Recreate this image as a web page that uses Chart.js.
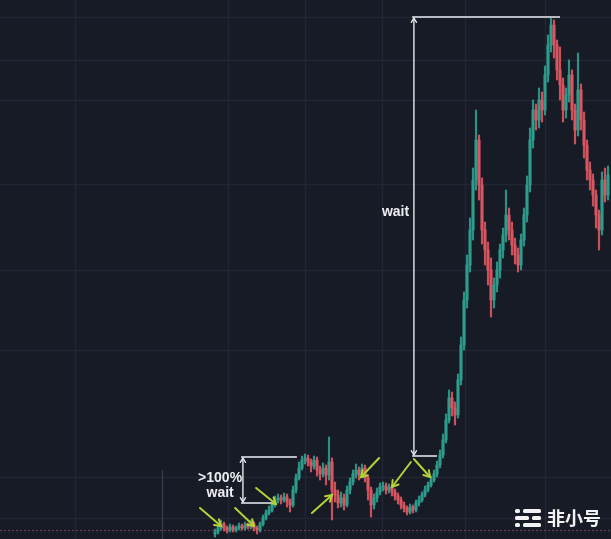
<!DOCTYPE html>
<html><head><meta charset="utf-8">
<script src="https://cdn.jsdelivr.net/npm/chart.js@4.4.0/dist/chart.umd.min.js"></script>
<style>html,body{margin:0;padding:0;background:#171b26;overflow:hidden}#wrap{width:611px;height:539px;position:relative}</style>
</head><body><div id="wrap"><canvas id="c"></canvas></div>
<script>
// ---- data (price index units) ----
const openPrices = [6,8,12,16,12,10,13,10,12,14,12,15,13,16,12,10,16,22,27,30,35,40,42,40,43,38,35,50,62,72,80,82,78,74,80,70,66,72,65,78,50,45,37,42,35,50,58,66,70,65,72,62,50,35,42,48,53,54,50,53,48,44,40,35,32,28,33,30,37,40,45,50,55,60,66,75,85,100,120,142,132,125,160,195,240,275,310,360,400,355,310,290,270,240,255,270,290,305,325,310,295,285,275,300,325,355,400,430,420,440,430,465,495,515,495,470,455,430,445,465,430,410,450,420,395,370,360,345,325,310,360,345];
const closePrices = [8,12,16,12,10,13,10,12,14,12,15,13,16,12,10,16,22,27,30,35,40,42,40,43,38,35,50,62,72,80,82,78,74,80,70,66,72,65,78,50,45,37,42,35,50,58,66,70,65,72,62,50,35,42,48,53,54,50,53,48,44,40,35,32,28,33,30,37,40,45,50,55,60,66,75,85,100,120,142,132,125,160,195,240,275,310,360,400,355,310,290,270,240,255,270,290,305,325,310,295,285,275,300,325,355,400,430,420,440,430,465,495,515,495,470,455,430,445,465,430,410,450,420,395,370,360,345,325,310,360,345,365];
const highPrices = [11,15,20,18,14,16,15,14,17,16,18,17,20,18,14,18,25,30,34,38,44,46,45,47,46,41,54,66,78,84,86,85,81,84,83,74,77,75,103,82,58,50,48,46,54,62,70,76,73,76,75,64,53,46,52,57,58,57,56,55,51,47,43,38,34,36,35,40,44,48,54,58,64,70,79,90,106,126,150,148,138,166,203,248,285,322,372,430,405,362,318,298,282,262,278,296,312,350,332,318,302,292,306,332,364,412,440,436,452,448,474,505,523,520,500,493,462,452,480,470,436,487,456,428,400,378,366,350,330,368,372,374];
const lowPrices = [3,6,10,9,7,8,8,8,10,10,10,11,11,9,6,8,14,20,25,28,33,37,36,38,33,28,33,47,60,70,76,74,68,71,64,60,63,55,60,20,38,32,33,30,33,46,55,62,60,62,58,40,23,31,38,45,49,46,47,44,40,36,31,28,25,26,27,28,34,38,43,48,53,58,63,72,82,97,117,124,115,122,155,190,232,268,300,350,340,296,275,255,223,232,248,262,282,298,300,285,276,268,270,294,318,348,392,410,412,418,425,458,488,482,460,440,418,422,438,420,396,404,410,382,360,350,334,312,290,305,338,340];
const candleIndex = closePrices.map((_, i) => i);
const gridLevels = [523, 480, 440, 356, 270, 190, 63, 22];
const gridTimes = [-46.7, 4.3, 30, 55.7, 83.3, 110];

// ---- styles ----
const UP = 'rgba(46,160,142,0.9)';
const DOWN = 'rgba(222,86,98,0.9)';
const colors = candleIndex.map(i => closePrices[i] >= openPrices[i] ? UP : DOWN);

// ---- annotations (in data units: candle index / price index) ----
const arrows = [
  [-5, 32, 2, 14], [6.7, 32, 13, 14], [13.7, 52, 20.3, 36], [32.3, 27, 39, 45],
  [54.7, 82, 48.7, 63], [65.3, 78, 59, 53], [66.3, 81, 71.7, 63]
];
const brackets = [
  {x: 66.3, top: 523, bottom: 84, topTo: 115, bottomTo: 74, from: 65.7, label: ['wait'], lx: 64.7, ly: 328, align: 'right'},
  {x: 9.3, top: 83, bottom: 37, topTo: 27.3, bottomTo: 19, from: 8.7, label: ['>100%', 'wait'], lx: 1.7, ly: 62, align: 'center'}
];

const bgPlugin = {
  id: 'bg',
  beforeDraw(chart) {
    const {ctx, width, height} = chart;
    ctx.save(); ctx.fillStyle = '#171b26'; ctx.fillRect(0, 0, width, height); ctx.restore();
  },
  beforeDatasetsDraw(chart) {
    const {ctx, chartArea: a, scales: {x, y}} = chart;
    ctx.save();
    ctx.strokeStyle = '#212534'; ctx.lineWidth = 1.6;
    gridLevels.forEach(v => { const p = Math.round(y.getPixelForValue(v)) + 0.5; ctx.beginPath(); ctx.moveTo(a.left, p); ctx.lineTo(a.right, p); ctx.stroke(); });
    gridTimes.forEach(v => { const p = Math.round(x.getPixelForValue(v)) + 0.5; ctx.beginPath(); ctx.moveTo(p, a.top); ctx.lineTo(p, a.bottom); ctx.stroke(); });
    // faint partial vertical
    const px = Math.round(x.getPixelForValue(-17.7)) + 0.5;
    ctx.strokeStyle = 'rgba(120,128,150,0.35)'; ctx.lineWidth = 1.2;
    ctx.beginPath(); ctx.moveTo(px, y.getPixelForValue(70)); ctx.lineTo(px, a.bottom); ctx.stroke();
    // dashed price line at bottom
    ctx.strokeStyle = 'rgba(170,90,115,0.55)'; ctx.lineWidth = 1.2; ctx.setLineDash([2, 2]);
    const py = Math.round(y.getPixelForValue(10)) + 0.5;
    ctx.beginPath(); ctx.moveTo(a.left, py); ctx.lineTo(a.right, py); ctx.stroke();
    ctx.restore();
  },
  afterDatasetsDraw(chart) {
    const {ctx, chartArea: a, scales: {x, y}} = chart;
    ctx.save();
    const head = (x1, y1, x2, y2, len, col, w) => {
      const ang = Math.atan2(y2 - y1, x2 - x1);
      ctx.strokeStyle = col; ctx.lineWidth = w; ctx.lineCap = 'round';
      ctx.beginPath();
      ctx.moveTo(x2 - len * Math.cos(ang - 0.55), y2 - len * Math.sin(ang - 0.55));
      ctx.lineTo(x2, y2);
      ctx.lineTo(x2 - len * Math.cos(ang + 0.55), y2 - len * Math.sin(ang + 0.55));
      ctx.stroke();
    };
    // yellow-green arrows
    arrows.forEach(([i1, v1, i2, v2]) => {
      const x1 = x.getPixelForValue(i1), y1 = y.getPixelForValue(v1), x2 = x.getPixelForValue(i2), y2 = y.getPixelForValue(v2);
      ctx.strokeStyle = '#b4d236'; ctx.lineWidth = 2; ctx.lineCap = 'round';
      ctx.beginPath(); ctx.moveTo(x1, y1); ctx.lineTo(x2, y2); ctx.stroke();
      head(x1, y1, x2, y2, 7, '#b4d236', 2);
    });
    // brackets
    brackets.forEach(b => {
      const bx = x.getPixelForValue(b.x), ty = y.getPixelForValue(b.top), by = y.getPixelForValue(b.bottom);
      const fx = x.getPixelForValue(b.from);
      ctx.strokeStyle = '#d9dbe0'; ctx.lineWidth = 1.5; ctx.lineCap = 'butt';
      ctx.beginPath(); ctx.moveTo(bx, ty); ctx.lineTo(bx, by); ctx.stroke();
      ctx.strokeStyle = '#b8bac2'; ctx.lineWidth = 2;
      ctx.beginPath(); ctx.moveTo(fx, ty); ctx.lineTo(x.getPixelForValue(b.topTo), ty); ctx.stroke();
      ctx.beginPath(); ctx.moveTo(fx, by); ctx.lineTo(x.getPixelForValue(b.bottomTo), by); ctx.stroke();
      head(bx, by, bx, ty + 1, 5, '#e6e7ea', 1.4);
      head(bx, ty, bx, by - 1, 5, '#e6e7ea', 1.4);
      ctx.fillStyle = '#eceef2'; ctx.font = 'bold 14px "Liberation Sans", Arial, sans-serif';
      ctx.textAlign = b.align; ctx.textBaseline = 'middle';
      b.label.forEach((t, k) => ctx.fillText(t, x.getPixelForValue(b.lx), y.getPixelForValue(b.ly) + k * 15));
    });
    // watermark logo
    const lx = a.right - 96, ly = a.bottom - 30;
    ctx.fillStyle = '#f2f2f2';
    const rr = (rx, ry, rw, rh) => { ctx.beginPath(); ctx.roundRect(rx, ry, rw, rh, 1.5); ctx.fill(); };
    rr(lx, ly, 5, 4); rr(lx + 8, ly, 18, 4);
    rr(lx, ly + 7, 14, 4); rr(lx + 17, ly + 7, 9, 4);
    rr(lx, ly + 14, 5, 4); rr(lx + 8, ly + 14, 18, 4);
    ctx.font = 'bold 18px "Noto Sans CJK SC", sans-serif'; ctx.textAlign = 'left'; ctx.textBaseline = 'middle';
    ctx.fillText('非小号', lx + 32, ly + 9);
    ctx.restore();
  }
};

new Chart(document.getElementById('c'), {
  type: 'bar',
  data: {
    datasets: [
      {
        label: 'wick',
        data: candleIndex.map(i => ({x: i, y: [lowPrices[i], highPrices[i]]})),
        backgroundColor: colors, barThickness: 1.5, grouped: false, order: 2
      },
      {
        label: 'body',
        data: candleIndex.map(i => ({x: i, y: [openPrices[i], closePrices[i]]})),
        backgroundColor: colors, barThickness: 2.5, minBarLength: 1, grouped: false, order: 1
      }
    ]
  },
  options: {
    responsive: true, maintainAspectRatio: false, animation: false,
    layout: {padding: 0},
    plugins: {legend: {display: false}, tooltip: {enabled: false}},
    scales: {
      x: {type: 'linear', display: false, min: -71.67, max: 132, offset: false},
      y: {type: 'linear', display: false, min: 1, max: 540}
    }
  },
  plugins: [bgPlugin]
});
</script></body></html>
